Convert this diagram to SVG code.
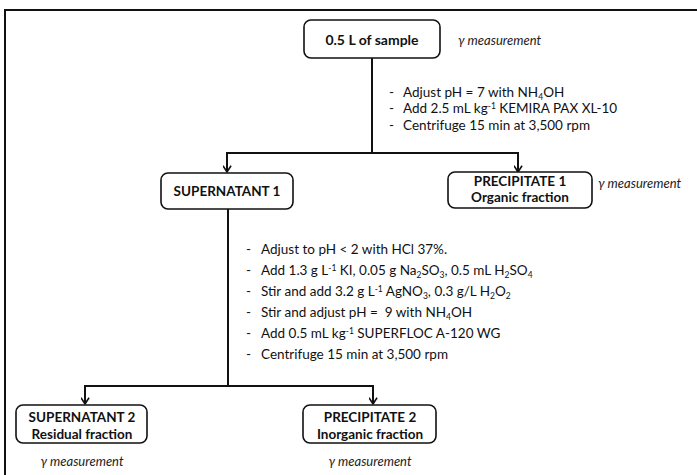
<svg xmlns="http://www.w3.org/2000/svg" width="697" height="475" viewBox="0 0 697 475">
<defs>
<style>
.box{fill:#fff;stroke:#111;stroke-width:1.6}
.conn{fill:none;stroke:#111;stroke-width:2}
.t{font-family:Lato,"Liberation Sans",sans-serif;font-size:13.5px;fill:#111}
.b{font-family:Lato,"Liberation Sans",sans-serif;font-size:13.5px;font-weight:bold;fill:#111;text-anchor:middle}
.g{font-family:Lato,"Liberation Sans",sans-serif;font-size:13px;font-style:italic;fill:#222}
.s{font-size:8.5px}
</style>
<marker id="arr" viewBox="0 0 10 10" refX="9" refY="5" markerWidth="9" markerHeight="9" markerUnits="userSpaceOnUse" orient="auto-start-reverse">
<path d="M2,0.5 L9,5 L2,9.5" fill="none" stroke="#111" stroke-width="1.8"/>
</marker>
</defs>
<rect width="697" height="475" fill="#fff"/>
<path d="M5,475 V10 H697" fill="none" stroke="#111" stroke-width="2"/>
<g id="connectors">
<path class="conn" d="M372,58 V153"/>
<path class="conn" d="M227,172 V153 H518 V172" marker-start="url(#arr)" marker-end="url(#arr)"/>
<path class="conn" d="M228,209 V386"/>
<path class="conn" d="M85,404 V386 H373 V404" marker-start="url(#arr)" marker-end="url(#arr)"/>
</g>
<g id="sample">
<rect class="box" x="304" y="20" width="136" height="38" rx="7"/>
<text class="b" x="372" y="45" style="font-size:14px">0.5 L of sample</text>
<text class="g" x="458" y="45">γ measurement</text>
</g>
<g id="steps1">
<text class="t" x="389" y="97">-<tspan x="403">Adjust pH = 7 with NH</tspan><tspan class="s" dy="2.5">4</tspan><tspan dy="-2.5">OH</tspan></text>
<text class="t" x="389" y="113">-<tspan x="403">Add 2.5 mL kg</tspan><tspan class="s" dy="-4.5">-1</tspan><tspan dy="4.5"> KEMIRA PAX XL-10</tspan></text>
<text class="t" x="389" y="130">-<tspan x="403">Centrifuge 15 min at 3,500 rpm</tspan></text>
</g>
<g id="supernatant1">
<rect class="box" x="161" y="173" width="132" height="36" rx="7"/>
<text class="b" x="227" y="196">SUPERNATANT 1</text>
</g>
<g id="precipitate1">
<rect class="box" x="448" y="172" width="144" height="36" rx="7"/>
<text class="b" x="520" y="186">PRECIPITATE 1</text>
<text class="b" x="520" y="202">Organic fraction</text>
<text class="g" x="598" y="188">γ measurement</text>
</g>
<g id="steps2">
<text class="t" x="246" y="254">-<tspan x="261">Adjust to pH &lt; 2 with HCl 37%.</tspan></text>
<text class="t" x="246" y="275">-<tspan x="261">Add 1.3 g L</tspan><tspan class="s" dy="-4.5">-1</tspan><tspan dy="4.5"> KI, 0.05 g Na</tspan><tspan class="s" dy="2.5">2</tspan><tspan dy="-2.5">SO</tspan><tspan class="s" dy="2.5">3</tspan><tspan dy="-2.5">, 0.5 mL H</tspan><tspan class="s" dy="2.5">2</tspan><tspan dy="-2.5">SO</tspan><tspan class="s" dy="2.5">4</tspan></text>
<text class="t" x="246" y="296">-<tspan x="261">Stir and add 3.2 g L</tspan><tspan class="s" dy="-4.5">-1</tspan><tspan dy="4.5"> AgNO</tspan><tspan class="s" dy="2.5">3</tspan><tspan dy="-2.5">, 0.3 g/L H</tspan><tspan class="s" dy="2.5">2</tspan><tspan dy="-2.5">O</tspan><tspan class="s" dy="2.5">2</tspan></text>
<text class="t" x="246" y="317">-<tspan x="261" xml:space="preserve">Stir and adjust pH =  9 with NH</tspan><tspan class="s" dy="2.5">4</tspan><tspan dy="-2.5">OH</tspan></text>
<text class="t" x="246" y="338">-<tspan x="261">Add 0.5 mL kg</tspan><tspan class="s" dy="-4.5">-1</tspan><tspan dy="4.5"> SUPERFLOC A-120 WG</tspan></text>
<text class="t" x="246" y="359">-<tspan x="261">Centrifuge 15 min at 3,500 rpm</tspan></text>
</g>
<g id="supernatant2">
<rect class="box" x="16" y="405" width="131" height="38" rx="7"/>
<text class="b" x="82" y="422">SUPERNATANT 2</text>
<text class="b" x="82" y="439">Residual fraction</text>
<text class="g" x="82" y="466" text-anchor="middle">γ measurement</text>
</g>
<g id="precipitate2">
<rect class="box" x="303" y="405" width="133" height="38" rx="7"/>
<text class="b" x="370" y="422">PRECIPITATE 2</text>
<text class="b" x="370" y="439">Inorganic fraction</text>
<text class="g" x="370" y="466" text-anchor="middle">γ measurement</text>
</g>
</svg>
